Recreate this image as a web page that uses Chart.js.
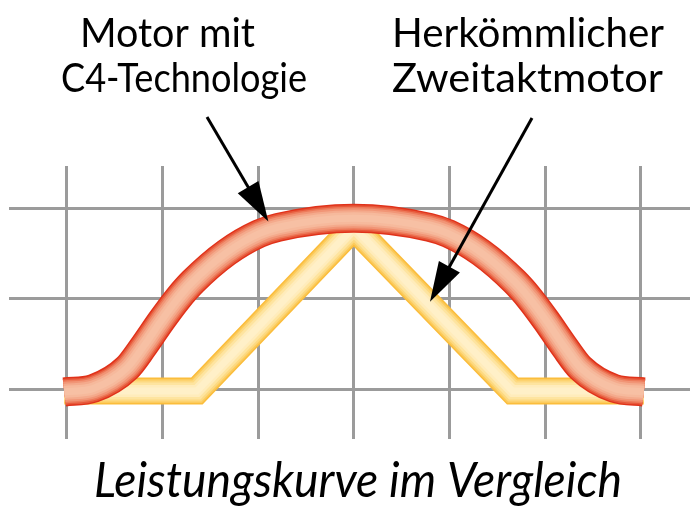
<!DOCTYPE html>
<html><head><meta charset="utf-8">
<script src="https://cdn.jsdelivr.net/npm/chart.js@4.4.0/dist/chart.umd.min.js"></script>
<style>html,body{margin:0;padding:0;background:#fff;} canvas{display:block;}</style>
</head><body>
<canvas id="c" width="690" height="507"></canvas>
<script>
// ---- data ----
const xTicks = [0, 1, 2, 3, 4, 5, 6];
const yTicks = [0, 1, 2];
const c4X = [-0.025, 0.28, 0.63, 0.80, 0.99, 1.16, 1.32, 1.67, 2.01, 2.21, 3.0, 3.79, 3.99, 4.33, 4.68, 4.84, 5.01, 5.20, 5.37, 5.72, 6.03];
const c4Y = [-0.03, 0.01, 0.235, 0.47, 0.76, 1.0, 1.19, 1.51, 1.72, 1.79, 1.89, 1.79, 1.72, 1.51, 1.19, 1.0, 0.76, 0.47, 0.235, 0.01, -0.03];
const twoX = [-0.025, 1.36, 3.0, 4.66, 6.03];
const twoY = [-0.02, -0.02, 1.79, -0.02, -0.02];
const labelC4 = ["Motor mit", "C4-Technologie"];
const labelTwo = ["Herkömmlicher", "Zweitaktmotor"];
const titleText = "Leistungskurve im Vergleich";

// ---- styles ----
const redLayers = [[29,'#e0321a'],[26,'#e7583a'],[23,'#ed7a5a'],[20,'#f19576'],[16,'#f4aa8c'],[12,'#f6b99c'],[7,'#f7c0a4']];
const yelLayers = [[27,'#fbbd3c'],[24,'#fccb5c'],[21,'#fdd980'],[17,'#fee49f'],[12,'#ffecbb'],[7,'#fff0c8']];

const c4Data = c4X.map((x, i) => ({x, y: c4Y[i]}));
const twoData = twoX.map((x, i) => ({x, y: twoY[i]}));

const datasets = [];
yelLayers.forEach((l, i) => datasets.push({
  data: twoData, borderColor: l[1], borderWidth: l[0], pointRadius: 0,
  tension: 0, borderJoinStyle: 'miter', borderCapStyle: 'butt', order: 40 - i
}));
redLayers.forEach((l, i) => datasets.push({
  data: c4Data, borderColor: l[1], borderWidth: l[0], pointRadius: 0,
  cubicInterpolationMode: 'monotone', borderJoinStyle: 'round', borderCapStyle: 'butt', order: 20 - i
}));

// arrows in data units: [fromX, fromY, toX, toY]
const arrows = [[1.466, 3.008, 2.107, 1.853], [4.862, 2.998, 3.796, 0.968]];

function fitText(ctx, text, x, baseline, capH, targetW, italic) {
  const capRatio = 0.717;
  const size = capH / capRatio;
  ctx.save();
  ctx.font = (italic ? 'italic ' : '') + size + 'px Lato';
  const w = ctx.measureText(text).width;
  ctx.translate(x, baseline);
  ctx.scale(targetW / w, 1);
  ctx.fillStyle = '#000';
  ctx.textBaseline = 'alphabetic';
  ctx.textAlign = 'left';
  ctx.fillText(text, 0, 0);
  ctx.restore();
}

const overlay = {
  id: 'overlay',
  afterDatasetsDraw(chart) {
    const ctx = chart.ctx, xs = chart.scales.x, ys = chart.scales.y;
    arrows.forEach(a => {
      const x1 = xs.getPixelForValue(a[0]), y1 = ys.getPixelForValue(a[1]);
      const x2 = xs.getPixelForValue(a[2]), y2 = ys.getPixelForValue(a[3]);
      const ang = Math.atan2(y2 - y1, x2 - x1);
      const L = 40, W = 12;
      const bx = x2 - L * Math.cos(ang), by = y2 - L * Math.sin(ang);
      ctx.save();
      ctx.strokeStyle = '#000'; ctx.fillStyle = '#000'; ctx.lineWidth = 3;
      ctx.beginPath(); ctx.moveTo(x1, y1); ctx.lineTo(bx + 2*Math.cos(ang), by + 2*Math.sin(ang)); ctx.stroke();
      ctx.beginPath();
      ctx.moveTo(x2, y2);
      ctx.lineTo(bx + W * Math.sin(ang), by - W * Math.cos(ang));
      ctx.lineTo(bx - W * Math.sin(ang), by + W * Math.cos(ang));
      ctx.closePath(); ctx.fill();
      ctx.restore();
    });
    fitText(ctx, labelC4[0], 80, 47, 29.5, 175, false);
    fitText(ctx, labelC4[1], 61, 92, 29.5, 246, false);
    fitText(ctx, labelTwo[0], 392, 47, 29.5, 272, false);
    fitText(ctx, labelTwo[1], 392, 92, 29.5, 271, false);
    fitText(ctx, titleText, 94, 497, 35, 528, true);
  }
};

new Chart(document.getElementById('c'), {
  type: 'line',
  data: { datasets },
  options: {
    responsive: false, animation: false, devicePixelRatio: 1,
    layout: { padding: { left: 9, right: 0, top: 166, bottom: 68 } },
    plugins: { legend: { display: false }, tooltip: { enabled: false }, title: { display: false } },
    scales: {
      x: {
        type: 'linear', min: -0.603, max: 6.513,
        afterBuildTicks: s => { s.ticks = xTicks.map(v => ({ value: v })); },
        ticks: { display: false },
        grid: { color: '#9b9b9b', lineWidth: 3, drawTicks: false },
        border: { display: false }
      },
      y: {
        type: 'linear', min: -0.549, max: 2.467,
        afterBuildTicks: s => { s.ticks = yTicks.map(v => ({ value: v })); },
        ticks: { display: false },
        grid: { color: '#9b9b9b', lineWidth: 3, drawTicks: false },
        border: { display: false }
      }
    }
  },
  plugins: [overlay]
});
</script>
</body></html>
